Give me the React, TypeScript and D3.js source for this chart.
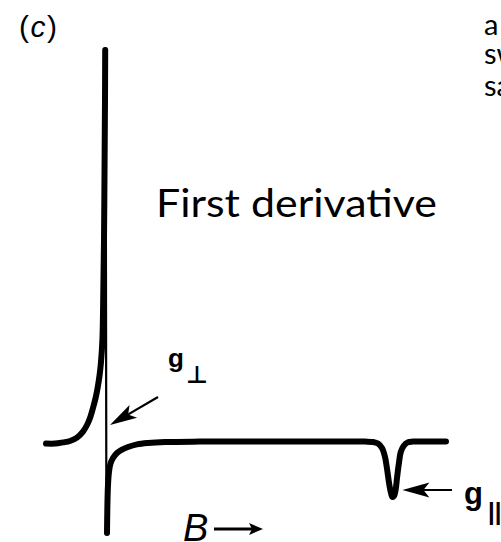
import React from 'react';
import * as d3 from 'd3';

const W = 501;
const H = 542;

// Magnetic field sweep (arb. units) and first-derivative EPR signal (arb. units)
// Rising flank of the g-perpendicular feature, drawn with the heavy pen
const riseField = [0, 2.25, 4.25, 6, 7.75, 9.25, 10.25, 11, 11.75, 12.4, 12.9, 13.4, 13.75, 14.1, 14.3, 14.5, 14.65, 14.75, 14.8];
const riseSignal = [-0.4, -0.4, -0.1, 0.25, 1.1, 2.6, 4.25, 6, 8.5, 11, 13.5, 16.75, 20, 25.5, 35.5, 50.5, 70.5, 85.5, 98];

// Sharp crossing through zero, drawn with the fine pen
const dropField = [14.9, 15.1];
const dropSignal = [98.5, -22.75];

// Recovery, flat baseline and the g-parallel dip
const tailField = [15.25, 15.35, 15.5, 15.75, 16.1, 16.75, 17.75, 19, 20.5, 22.75, 25.5, 29.75, 38.5, 53.5, 68.5, 79.75, 81.75, 83, 84, 84.75, 85.3, 85.8, 86.25, 86.6, 87, 87.4, 87.75, 88.2, 88.7, 89.4, 90.4, 91.75, 96, 100];
const tailSignal = [-22.75, -15.75, -10.75, -7.5, -5.5, -4, -2.75, -1.9, -1.25, -0.6, -0.25, 0, 0.1, 0.1, 0.1, 0.1, 0, -0.4, -1.5, -3.75, -7, -10.5, -12.75, -13.75, -13.5, -12, -9, -5.5, -2.5, -1, -0.1, 0.1, 0.1, 0.1];

// Annotation arrows: [tipField, tipSignal, tailField, tailSignal]
const perpArrow = [16, 4.25, 28, 11.25];
const parArrow = [89.1, -12, 101.5, -12];

const fieldDomain = [0, 100];
const signalDomain = [-25, 100];

const zip = (a: number[], b: number[]) => a.map((v, i) => [v, b[i]] as [number, number]);

function arrowHeadPath(tx: number, ty: number, sx: number, sy: number, len: number, half: number, notch: number) {
  const dx = sx - tx;
  const dy = sy - ty;
  const L = Math.hypot(dx, dy);
  const ux = dx / L;
  const uy = dy / L;
  const px = -uy;
  const py = ux;
  const bx = tx + ux * len;
  const by = ty + uy * len;
  const nx = tx + ux * (len - notch);
  const ny = ty + uy * (len - notch);
  return `M${tx},${ty}L${bx + px * half},${by + py * half}L${nx},${ny}L${bx - px * half},${by - py * half}Z`;
}

export default function App() {
  const x = d3.scaleLinear().domain(fieldDomain).range([46, 446]);
  const y = d3.scaleLinear().domain(signalDomain).range([542, 42]);

  const line = d3
    .line<[number, number]>()
    .x((d) => x(d[0]))
    .y((d) => y(d[1]))
    .curve(d3.curveCatmullRom.alpha(0.5));

  const straight = d3
    .line<[number, number]>()
    .x((d) => x(d[0]))
    .y((d) => y(d[1]));

  const arrow = (a: number[]) => {
    const tx = x(a[0]);
    const ty = y(a[1]);
    const sx = x(a[2]);
    const sy = y(a[3]);
    return (
      <g>
        <line x1={tx + (sx - tx) * 0.3} y1={ty + (sy - ty) * 0.3} x2={sx} y2={sy} stroke="#000" strokeWidth={2.2} />
        <path d={arrowHeadPath(tx, ty, sx, sy, 27, 7.5, 6)} fill="#000" />
      </g>
    );
  };

  return (
    <svg
      width={W}
      height={H}
      viewBox={`0 0 ${W} ${H}`}
      style={{ position: 'absolute', left: 0, top: 0, background: '#fff' }}
    >
      <rect width={W} height={H} fill="#fff" />

      <text x={19} y={37} fontFamily="'Liberation Sans', Arial, sans-serif" fontSize={30} letterSpacing={1.5} fill="#000">
        (<tspan fontStyle="italic">c</tspan>)
      </text>

      <g fontFamily="Lato, 'Open Sans', sans-serif" fontSize={29} fill="#000">
        <text x={484} y={35}>a</text>
        <text x={484} y={64}>sw</text>
        <text x={484} y={96}>sa</text>
      </g>

      <text
        x={156}
        y={217}
        fontFamily="Lato, 'Open Sans', sans-serif"
        fontSize={39}
        fill="#000"
        textLength={281}
        lengthAdjust="spacingAndGlyphs"
      >
        First derivative
      </text>

      <path d={line(zip(riseField, riseSignal)) || ''} fill="none" stroke="#000" strokeWidth={6} strokeLinecap="round" strokeLinejoin="round" />
      <path d={straight(zip(dropField, dropSignal)) || ''} fill="none" stroke="#000" strokeWidth={2.2} strokeLinecap="round" />
      <path d={line(zip(tailField, tailSignal)) || ''} fill="none" stroke="#000" strokeWidth={6} strokeLinecap="round" strokeLinejoin="round" />

      {arrow(perpArrow)}
      {arrow(parArrow)}

      <text x={168} y={367} fontFamily="'Liberation Sans', Arial, sans-serif" fontWeight="bold" fontSize={26} fill="#000">
        g
      </text>
      <text x={186} y={383} fontFamily="'DejaVu Sans', sans-serif" fontWeight="bold" fontSize={24} fill="#000">
        ⊥
      </text>

      <text x={464} y={504} fontFamily="'Liberation Sans', Arial, sans-serif" fontWeight="bold" fontSize={31} fill="#000">
        g
      </text>
      <text x={488} y={520} fontFamily="'Liberation Sans', Arial, sans-serif" fontWeight="bold" fontSize={24} fill="#000">
        ||
      </text>

      <text x={183} y={541} fontFamily="'Liberation Sans', Arial, sans-serif" fontStyle="italic" fontSize={38} fill="#000">
        B
      </text>
      <line x1={214} y1={529} x2={252} y2={529} stroke="#000" strokeWidth={3} />
      <path d={arrowHeadPath(263, 529, 214, 529, 14, 6, 3)} fill="#000" />
    </svg>
  );
}
